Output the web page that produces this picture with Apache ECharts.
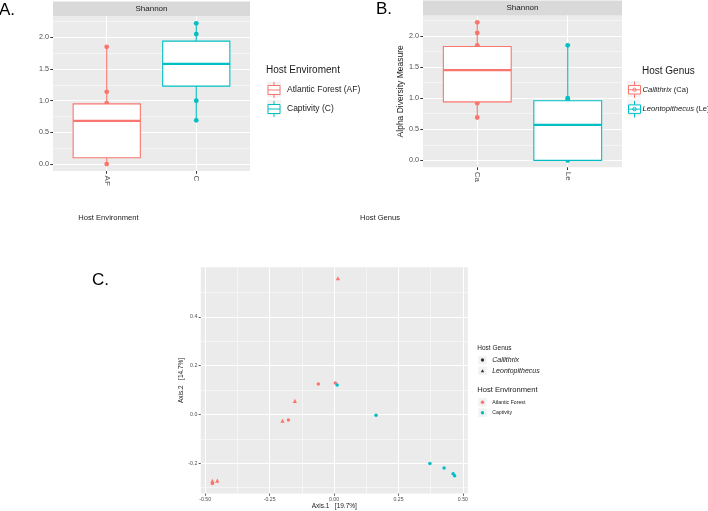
<!DOCTYPE html>
<html><head><meta charset="utf-8">
<script src="https://cdn.jsdelivr.net/npm/echarts@6/dist/echarts.min.js"></script>
<style>html,body{margin:0;padding:0;background:#fff}#c{width:708px;height:511px}</style>
</head><body><div id="c"></div>
<script>
// ---------- Panel A : Shannon by host environment ----------
const envCategories = ['AF', 'C'];
const envNames = ['Atlantic Forest (AF)', 'Captivity (C)'];
// box stats: [min, Q1, median, Q3, max]
const envBoxAF = [0.0, 0.10, 0.68, 0.95, 1.85];
const envBoxC = [0.69, 1.23, 1.58, 1.94, 2.22];
const envPointsAF = [1.85, 1.14, 0.96, 0.0];
const envPointsC = [2.22, 2.05, 1.00, 0.69];

// ---------- Panel B : Shannon by host genus ----------
const genusCategories = ['Ca', 'Le'];
const genusNames = ['Callithrix (Ca)', 'Leontopithecus (Le)'];
const genusBoxCa = [0.69, 0.94, 1.45, 1.83, 2.22];
const genusBoxLe = [0.0, 0.0, 0.57, 0.96, 1.85];
const genusPointsCa = [2.22, 2.05, 1.85, 0.92, 0.69];
const genusPointsLe = [1.85, 1.00, 0.97, 0.0];
const diversityTicks = [0, 0.5, 1.0, 1.5, 2.0];

// ---------- Panel C : PCoA ----------
const pcoaAFx = [0.015, -0.061, 0.005, -0.152, -0.200, -0.177, -0.472, -0.472, -0.453];
const pcoaAFy = [0.559, 0.125, 0.129, 0.056, -0.026, -0.023, -0.273, -0.284, -0.272];
const pcoaAFgenus = ['Le', 'Ca', 'Ca', 'Le', 'Le', 'Ca', 'Le', 'Ca', 'Le'];
const pcoaCx = [0.012, 0.163, 0.372, 0.427, 0.462, 0.468];
const pcoaCy = [0.121, -0.003, -0.201, -0.220, -0.244, -0.252];
const pcoaCgenus = ['Ca', 'Ca', 'Ca', 'Ca', 'Ca', 'Ca'];
const pcoaTicksX = [-0.5, -0.25, 0, 0.25, 0.5];
const pcoaTicksY = [-0.2, 0, 0.2, 0.4];

const RED = '#F8766D', CYAN = '#00BFC4';
const FONT = 'Liberation Sans, Arial, Helvetica, sans-serif';
const BG = '#EBEBEB';
const TRI = 'path://M0,3.1L1.8,0L3.6,3.1Z';

function boxRender(params, api) {
  const x = api.value(0);
  const c = api.visual('color');
  const pMin = api.coord([x, api.value(1)]);
  const pQ1 = api.coord([x, api.value(2)]);
  const pMed = api.coord([x, api.value(3)]);
  const pQ3 = api.coord([x, api.value(4)]);
  const pMax = api.coord([x, api.value(5)]);
  const hw = api.size([0.75, 0])[0] / 2;
  const lw = 1.1;
  return {type: 'group', children: [
    {type: 'line', shape: {x1: pQ3[0], y1: pQ3[1], x2: pMax[0], y2: pMax[1]}, style: {stroke: c, lineWidth: lw}},
    {type: 'line', shape: {x1: pMin[0], y1: pMin[1], x2: pQ1[0], y2: pQ1[1]}, style: {stroke: c, lineWidth: lw}},
    {type: 'rect', shape: {x: pQ3[0] - hw, y: pQ3[1], width: 2 * hw, height: pQ1[1] - pQ3[1]}, style: {fill: '#fff', stroke: c, lineWidth: lw}},
    {type: 'line', shape: {x1: pMed[0] - hw, y1: pMed[1], x2: pMed[0] + hw, y2: pMed[1]}, style: {stroke: c, lineWidth: 2.2}}
  ]};
}

function boxAxes(gi, cats) {
  const x = {
    gridIndex: gi, type: 'value', min: 0.4, max: 2.6,
    axisLine: {show: false, onZero: false},
    axisTick: {show: true, customValues: [1, 2], length: 2.7, lineStyle: {color: '#333', width: 1}},
    axisLabel: {customValues: [1, 2], rotate: -90, margin: 4.5, fontSize: 8, color: '#4D4D4D', fontFamily: FONT,
      formatter: v => cats[Math.round(v) - 1]},
    splitLine: {show: true, lineStyle: {color: '#fff', width: 1.1}},
    minorSplitLine: {show: false}
  };
  const y = {
    gridIndex: gi, type: 'value', min: -0.111, max: 2.331, minInterval: 0.5, maxInterval: 0.5,
    axisLine: {show: false, onZero: false},
    axisTick: {show: true, customValues: diversityTicks, length: 2.7, lineStyle: {color: '#333', width: 1}},
    axisLabel: {customValues: diversityTicks, margin: 4, fontSize: 7.2, color: '#4D4D4D', fontFamily: FONT,
      formatter: v => v.toFixed(1)},
    splitLine: {show: true, lineStyle: {color: '#fff', width: 1.1}},
    minorTick: {show: false, splitNumber: 2},
    minorSplitLine: {show: true, lineStyle: {color: '#fff', width: 0.5}}
  };
  return [x, y];
}

const [xA, yA] = boxAxes(0, envCategories);
const [xB, yB] = boxAxes(1, genusCategories);
yB.name = 'Alpha Diversity Measure';
yB.nameLocation = 'middle';
yB.nameGap = 18;
yB.nameTextStyle = {fontSize: 8.5, color: '#1A1A1A', fontFamily: FONT};

const xC = {
  gridIndex: 2, type: 'value', min: -0.517, max: 0.519, minInterval: 0.25, maxInterval: 0.25,
  name: 'Axis.1   [19.7%]', nameLocation: 'middle', nameGap: 8.5,
  nameTextStyle: {fontSize: 6.5, color: '#1A1A1A', fontFamily: FONT},
  axisLine: {show: false, onZero: false},
  axisTick: {show: true, customValues: pcoaTicksX, length: 2.2, lineStyle: {color: '#333', width: 0.8}},
  axisLabel: {customValues: pcoaTicksX, margin: 3.5, fontSize: 5.2, color: '#4D4D4D', fontFamily: FONT,
    formatter: v => v.toFixed(2)},
  splitLine: {show: true, lineStyle: {color: '#fff', width: 1}},
  minorTick: {show: false, splitNumber: 2},
  minorSplitLine: {show: true, lineStyle: {color: '#fff', width: 0.5}}
};
const yC = {
  gridIndex: 2, type: 'value', min: -0.325, max: 0.604, minInterval: 0.2, maxInterval: 0.2,
  name: 'Axis.2   [14.7%]', nameLocation: 'middle', nameGap: 15.5,
  nameTextStyle: {fontSize: 6.5, color: '#1A1A1A', fontFamily: FONT},
  axisLine: {show: false, onZero: false},
  axisTick: {show: true, customValues: pcoaTicksY, length: 2.2, lineStyle: {color: '#333', width: 0.8}},
  axisLabel: {customValues: pcoaTicksY, margin: 3.5, fontSize: 5.2, color: '#4D4D4D', fontFamily: FONT,
    formatter: v => v.toFixed(1)},
  splitLine: {show: true, lineStyle: {color: '#fff', width: 1}},
  minorTick: {show: false, splitNumber: 2},
  minorSplitLine: {show: true, lineStyle: {color: '#fff', width: 0.5}}
};

const boxIconA = 'path://M6,0L6,3.5M0,3.5L12,3.5L12,12.5L0,12.5ZM0,8L12,8M6,12.5L6,16';
const boxIconB = 'path://M6,0L6,4M0,4L12,4L12,12.5L0,12.5ZM0,8.25L12,8.25M6,12.5L6,16.5M7.7,8.25A1.7,1.7,0,1,1,4.3,8.25A1.7,1.7,0,1,1,7.7,8.25Z';

function boxSeries(name, gi, xPos, stats, color) {
  return {type: 'custom', name, xAxisIndex: gi, yAxisIndex: gi, z: 3,
    itemStyle: {color}, renderItem: boxRender,
    encode: {x: 0, y: [1, 2, 3, 4, 5]},
    data: [[xPos].concat(stats)], silent: true};
}
function pointSeries(name, gi, xPos, vals, color) {
  return {type: 'scatter', name, xAxisIndex: gi, yAxisIndex: gi, z: 2,
    symbol: 'circle', symbolSize: 4.8, itemStyle: {color, opacity: 1},
    data: vals.map(v => [xPos, v]), silent: true};
}
function pcoaSeries(name, xs, ys, gs, color) {
  return {type: 'scatter', name, xAxisIndex: 2, yAxisIndex: 2, z: 3,
    symbol: v => (v[2] === 'Le' ? 'triangle' : 'circle'),
    symbolSize: v => (v[2] === 'Le' ? 4.2 : 3.5),
    itemStyle: {color, opacity: 1},
    data: xs.map((x, i) => [x, ys[i], gs[i]]), silent: true};
}

function txt(x, y, text, size, opts) {
  return Object.assign({type: 'text', x, y, silent: true,
    style: Object.assign({text, fontSize: size, fontFamily: FONT, fill: '#1A1A1A', align: 'left', verticalAlign: 'middle'}, opts || {})});
}
function keyRect(x, y, w, h) {
  return {type: 'rect', shape: {x, y, width: w, height: h}, style: {fill: '#F2F2F2'}, silent: true, z: -1};
}

const option = {
  animation: false,
  backgroundColor: '#fff',
  textStyle: {fontFamily: FONT},
  grid: [
    {left: 53, top: 16.3, width: 197, height: 154.8, show: true, backgroundColor: BG, borderWidth: 0},
    {left: 423, top: 15.4, width: 199, height: 151.9, show: true, backgroundColor: BG, borderWidth: 0},
    {left: 200.8, top: 267.3, width: 267, height: 227.7, show: true, backgroundColor: BG, borderWidth: 0}
  ],
  xAxis: [xA, xB, xC],
  yAxis: [yA, yB, yC],
  legend: [
    {left: 267.5, top: 81.5, orient: 'vertical', padding: 0, itemWidth: 12, itemHeight: 16, itemGap: 2,
      selectedMode: false, textStyle: {fontSize: 8.5, color: '#1A1A1A', fontFamily: FONT, padding: [0, 0, 0, 2]},
      data: [
        {name: envNames[0], icon: boxIconA, itemStyle: {color: '#fff', borderColor: RED, borderWidth: 1}},
        {name: envNames[1], icon: boxIconA, itemStyle: {color: '#fff', borderColor: CYAN, borderWidth: 1}}
      ]},
    {left: 628, top: 81, orient: 'vertical', padding: 0, itemWidth: 12, itemHeight: 16.5, itemGap: 1.9,
      selectedMode: false,
      formatter: name => { const i = name.indexOf(' ('); return '{i|' + name.slice(0, i) + '}' + name.slice(i); },
      textStyle: {fontSize: 7.6, color: '#1A1A1A', fontFamily: FONT, padding: [0, 0, 0, -3],
        rich: {i: {fontStyle: 'italic', fontSize: 7.6, fontFamily: FONT, color: '#1A1A1A'}}},
      data: [
        {name: genusNames[0], icon: boxIconB, itemStyle: {color: '#fff', borderColor: RED, borderWidth: 1}},
        {name: genusNames[1], icon: boxIconB, itemStyle: {color: '#fff', borderColor: CYAN, borderWidth: 1}}
      ]},
    {left: 480.8, top: 356, orient: 'vertical', padding: 0, itemWidth: 3.4, itemHeight: 8, itemGap: 2.7,
      selectedMode: false,
      textStyle: {fontSize: 7, lineHeight: 8, fontStyle: 'italic', color: '#1A1A1A', fontFamily: FONT, padding: [0, 0, 0, 3]},
      data: [
        {name: 'Callithrix', icon: 'circle', itemStyle: {color: '#000'}},
        {name: 'Leontopithecus', icon: TRI, itemStyle: {color: '#000'}}
      ]},
    {left: 480.8, top: 398.3, orient: 'vertical', padding: 0, itemWidth: 3.4, itemHeight: 8, itemGap: 2.4,
      selectedMode: false,
      textStyle: {fontSize: 5.2, lineHeight: 8, color: '#1A1A1A', fontFamily: FONT, padding: [0, 0, 0, 3]},
      data: [
        {name: 'Atlantic Forest', icon: 'circle', itemStyle: {color: RED}},
        {name: 'Captivity', icon: 'circle', itemStyle: {color: CYAN}}
      ]}
  ],
  series: [
    pointSeries('AF points', 0, 1, envPointsAF, RED),
    pointSeries('C points', 0, 2, envPointsC, CYAN),
    boxSeries(envNames[0], 0, 1, envBoxAF, RED),
    boxSeries(envNames[1], 0, 2, envBoxC, CYAN),
    pointSeries('Ca points', 1, 1, genusPointsCa, RED),
    pointSeries('Le points', 1, 2, genusPointsLe, CYAN),
    boxSeries(genusNames[0], 1, 1, genusBoxCa, RED),
    boxSeries(genusNames[1], 1, 2, genusBoxLe, CYAN),
    pcoaSeries('Atlantic Forest', pcoaAFx, pcoaAFy, pcoaAFgenus, RED),
    pcoaSeries('Captivity', pcoaCx, pcoaCy, pcoaCgenus, CYAN),
    {type: 'scatter', name: 'Callithrix', xAxisIndex: 2, yAxisIndex: 2, symbol: 'circle', itemStyle: {color: '#000'}, data: []},
    {type: 'scatter', name: 'Leontopithecus', xAxisIndex: 2, yAxisIndex: 2, symbol: TRI, itemStyle: {color: '#000'}, data: []}
  ],
  graphic: {elements: [
    // panel letters
    txt(-1, 10, 'A.', 17, {fill: '#000'}),
    txt(376, 9, 'B.', 17, {fill: '#000'}),
    txt(92, 280.5, 'C.', 17, {fill: '#000'}),
    // facet strips
    {type: 'rect', shape: {x: 53, y: 1.5, width: 197, height: 14.8}, style: {fill: '#D9D9D9'}, silent: true},
    txt(151.5, 9, 'Shannon', 8, {align: 'center'}),
    {type: 'rect', shape: {x: 423, y: 0.5, width: 199, height: 14.9}, style: {fill: '#D9D9D9'}, silent: true},
    txt(522.5, 8, 'Shannon', 8, {align: 'center'}),
    // axis titles
    txt(108.5, 217.5, 'Host Environment', 7.6, {align: 'center'}),
    txt(380, 217.5, 'Host Genus', 7.6, {align: 'center'}),
    // legend titles
    txt(266, 70, 'Host Enviroment', 10),
    txt(642, 71, 'Host Genus', 10),
    txt(477.3, 348, 'Host Genus', 6.5),
    txt(477.3, 390.3, 'Host Environment', 7.6),
    // legend key backgrounds
    keyRect(267, 81.7, 14, 15.7), keyRect(267, 99.7, 14, 15.7),
    keyRect(627.3, 81, 13.3, 16.5), keyRect(627.3, 99.4, 13.3, 16.5),
    keyRect(478.3, 356, 8.5, 8.5), keyRect(478.3, 366.5, 8.5, 8.5),
    keyRect(478.3, 398, 8.5, 8.5), keyRect(478.3, 408.4, 8.5, 8.5)
  ]}
};

const chart = echarts.init(document.getElementById('c'), null, {renderer: 'canvas'});
chart.setOption(option);
</script>
</body></html>
